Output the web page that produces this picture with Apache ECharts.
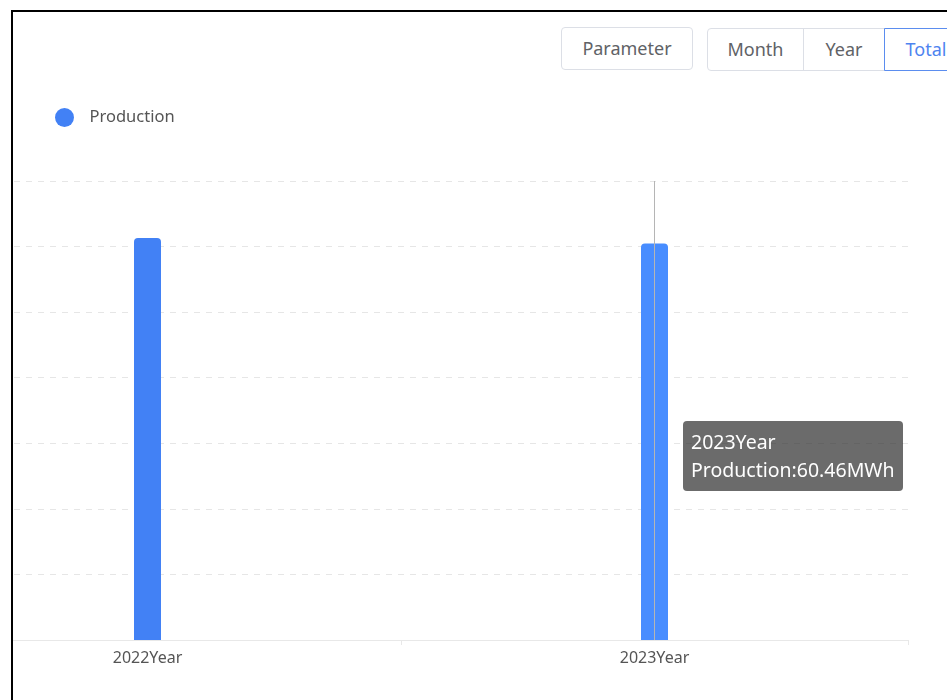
<!DOCTYPE html>
<html>
<head>
<meta charset="utf-8">
<script src="https://cdn.jsdelivr.net/npm/echarts@6/dist/echarts.min.js"></script>
<style>
  html, body { margin: 0; padding: 0; background: #fff; width: 947px; height: 700px; overflow: hidden; font-family: 'Microsoft YaHei', 'Noto Sans', 'Open Sans', sans-serif; }
  #frame { position: absolute; left: 11px; top: 10px; width: 1000px; height: 1000px; border-left: 2px solid #000; border-top: 2px solid #000; }
  #clip { position: absolute; left: 13px; top: 12px; width: 934px; height: 688px; overflow: hidden; }
  #chart { position: absolute; left: -213px; top: -12px; width: 1147px; height: 700px; }
  .btn { position: absolute; box-sizing: border-box; height: 43px; border: 1px solid #dcdfe6; background: #fff; color: #606266; font-size: 18px; line-height: 41px; text-align: center; }
</style>
</head>
<body>
<div id="frame"></div>
<div id="clip"><div id="chart"></div></div>
<div class="btn" style="left:561px;top:27px;width:132px;border-radius:4px;">Parameter</div>
<div class="btn" style="left:707px;top:28px;width:97px;border-radius:4px 0 0 4px;">Month</div>
<div class="btn" style="left:803px;top:28px;width:82px;border-radius:0;">Year</div>
<div class="btn" style="left:884px;top:28px;width:82px;border-radius:0 4px 4px 0;border-color:#5b8def;color:#4d84f0;padding-left:2px;">Total</div>
<script>
const categories = ['2022Year', '2023Year'];
const production = [61.3, 60.46];
const seriesName = 'Production';
const unit = 'MWh';

const chart = echarts.init(document.getElementById('chart'), null, { renderer: 'canvas' });
chart.setOption({
  animation: false,
  legend: {
    left: 250, top: 103,
    icon: 'circle', itemWidth: 40, itemHeight: 19,
    textStyle: { fontSize: 16.5, color: '#555', fontFamily: "'Microsoft YaHei', 'Noto Sans', sans-serif" },
    data: [seriesName]
  },
  tooltip: {
    trigger: 'axis',
    alwaysShowContent: true,
    transitionDuration: 0,
    backgroundColor: 'rgba(50,50,50,0.72)',
    borderWidth: 0,
    borderRadius: 4,
    padding: [7, 8],
    extraCssText: 'box-shadow:none;line-height:28px;',
    textStyle: { color: '#fff', fontSize: 19.5, fontFamily: "'Microsoft YaHei', 'Noto Sans', sans-serif" },
    axisPointer: { type: 'line', lineStyle: { color: '#b5b5b5', width: 1, type: 'solid' } },
    position: function () { return [883, 421]; },
    formatter: function (params) {
      const p = params[0];
      return p.name + '<br/>' + p.seriesName + ':' + p.value + unit;
    }
  },
  grid: { left: 94, right: 39, top: 181, bottom: 60, containLabel: false },
  xAxis: {
    type: 'category',
    data: categories,
    axisLine: { lineStyle: { color: '#e8e8e8' } },
    axisTick: { show: true, length: 5, lineStyle: { color: '#e8e8e8' } },
    axisLabel: { color: '#555', fontSize: 16, margin: 10, fontFamily: "'Microsoft YaHei', 'Noto Sans', sans-serif" }
  },
  yAxis: {
    type: 'value',
    min: 0, max: 70, interval: 10,
    axisLabel: { show: false },
    axisLine: { show: false },
    axisTick: { show: false },
    splitLine: { lineStyle: { color: '#e6e6e6', type: [6, 6] } }
  },
  series: [{
    name: seriesName,
    type: 'bar',
    data: production,
    barWidth: 27,
    itemStyle: { color: '#4281f5', borderRadius: [4, 4, 0, 0] }
  }]
});
chart.dispatchAction({ type: 'showTip', seriesIndex: 0, dataIndex: 1 });
</script>
</body>
</html>
